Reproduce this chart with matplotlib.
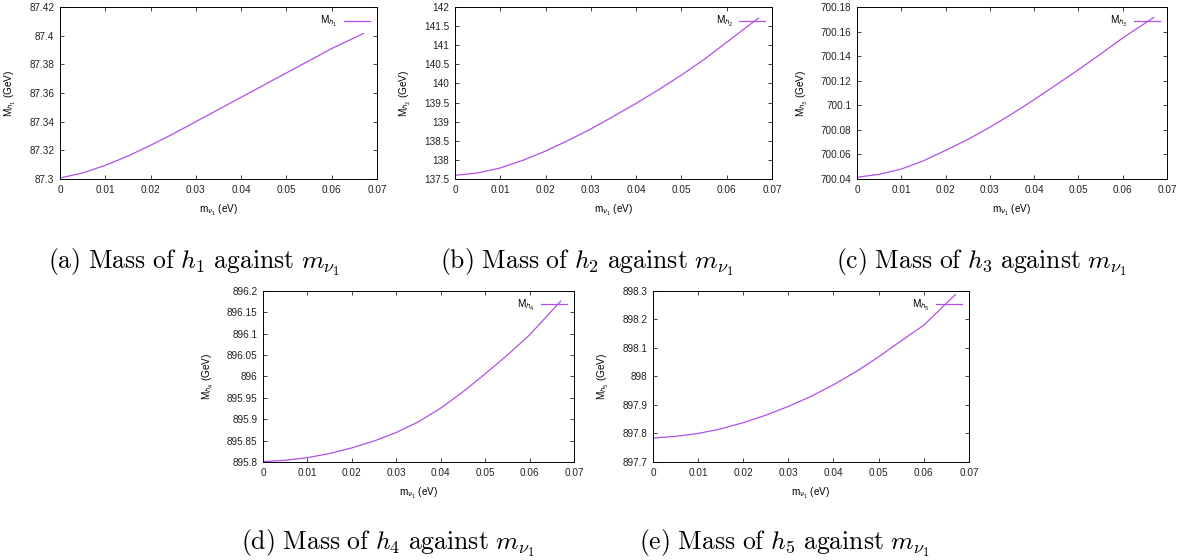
import numpy as np
import matplotlib
matplotlib.use("Agg")
from matplotlib import pyplot as plt
from matplotlib.ticker import FuncFormatter, MultipleLocator

plt.rcParams['font.family'] = ['Liberation Sans', 'DejaVu Sans']
plt.rcParams['mathtext.fontset'] = 'cm'

# lightest neutrino mass (eV)
m_nu1 = [0, 0.005, 0.01, 0.015, 0.02, 0.025, 0.03, 0.035, 0.04, 0.045, 0.05, 0.055, 0.06, 0.0670]

# scalar masses (GeV)
M_h1 = [87.3007, 87.3042, 87.3095, 87.3160, 87.3235, 87.3315, 87.3400, 87.3485,
        87.3570, 87.3655, 87.3740, 87.3825, 87.3910, 87.4015]
M_h2 = [137.596, 137.657, 137.788, 137.990, 138.230, 138.510, 138.810, 139.140,
        139.480, 139.840, 140.220, 140.630, 141.080, 141.710]
M_h3 = [700.0414, 700.0438, 700.0481, 700.0548, 700.0633, 700.0722, 700.0821, 700.0930,
        700.1046, 700.1167, 700.1290, 700.1417, 700.1548, 700.1715]
M_h4 = [895.801, 895.804, 895.810, 895.820, 895.833, 895.849, 895.869, 895.894,
        895.926, 895.964, 896.006, 896.050, 896.097, 896.176]
M_h5 = [897.784, 897.790, 897.800, 897.816, 897.838, 897.864, 897.895, 897.930,
        897.971, 898.017, 898.069, 898.125, 898.180, 898.287]

series = [M_h1, M_h2, M_h3, M_h4, M_h5]
ylims = [(87.3, 87.42), (137.5, 142), (700.04, 700.18), (895.8, 896.2), (897.7, 898.3)]
ysteps = [0.02, 0.5, 0.02, 0.05, 0.1]
captions = ['a', 'b', 'c', 'd', 'e']

# axes boxes in figure fraction [left, bottom, width, height]
boxes = [
    [0.0504, 0.6804, 0.2664, 0.3071],
    [0.3824, 0.6804, 0.2664, 0.3071],
    [0.7202, 0.6804, 0.2605, 0.3071],
    [0.2210, 0.1750, 0.2613, 0.3054],
    [0.5487, 0.1750, 0.2655, 0.3054],
]
# caption centres, figure fraction
cap_pos = [(0.163, 0.532), (0.493, 0.532), (0.825, 0.532), (0.326, 0.029), (0.659, 0.029)]

fmt = FuncFormatter(lambda v, p: '%g' % round(v, 6))
color = '#b050e8'
fs = 7.2

fig = plt.figure(figsize=(11.9, 5.6), dpi=100)
for i in range(5):
    ax = fig.add_axes(boxes[i])
    n = i + 1
    ax.plot(m_nu1, series[i], color=color, lw=0.9, label=r'M$_{h_%d}$' % n)
    ax.set_xlim(0, 0.07)
    ax.set_ylim(*ylims[i])
    ax.xaxis.set_major_locator(MultipleLocator(0.01))
    ax.yaxis.set_major_locator(MultipleLocator(ysteps[i]))
    ax.xaxis.set_major_formatter(fmt)
    ax.yaxis.set_major_formatter(fmt)
    ax.tick_params(direction='in', top=True, right=True, length=3, width=0.6,
                   labelsize=fs, pad=4, colors='#222222')
    for sp in ax.spines.values():
        sp.set_linewidth(0.7)
    ax.set_xlabel(r'm$_{\nu_1}$ (eV)', fontsize=fs, math_fontfamily='dejavusans', labelpad=6)
    ax.set_ylabel(r'M$_{h_%d}$ (GeV)' % n, fontsize=fs, math_fontfamily='dejavusans', labelpad=8)
    leg = ax.legend(loc='upper right', frameon=False, markerfirst=False, fontsize=fs,
                    handlelength=2.6, handletextpad=0.6, borderaxespad=0.3)
    for t in leg.get_texts():
        t.set_math_fontfamily('dejavusans')
    cx, cy = cap_pos[i]
    fig.text(cx, cy, r'$\mathrm{(%s)\ Mass\ of\ }h_%d\mathrm{\ against\ }m_{\nu_1}$' % (captions[i], n),
             ha='center', va='center', fontsize=18.5)

fig.savefig('out.png', dpi=100)
